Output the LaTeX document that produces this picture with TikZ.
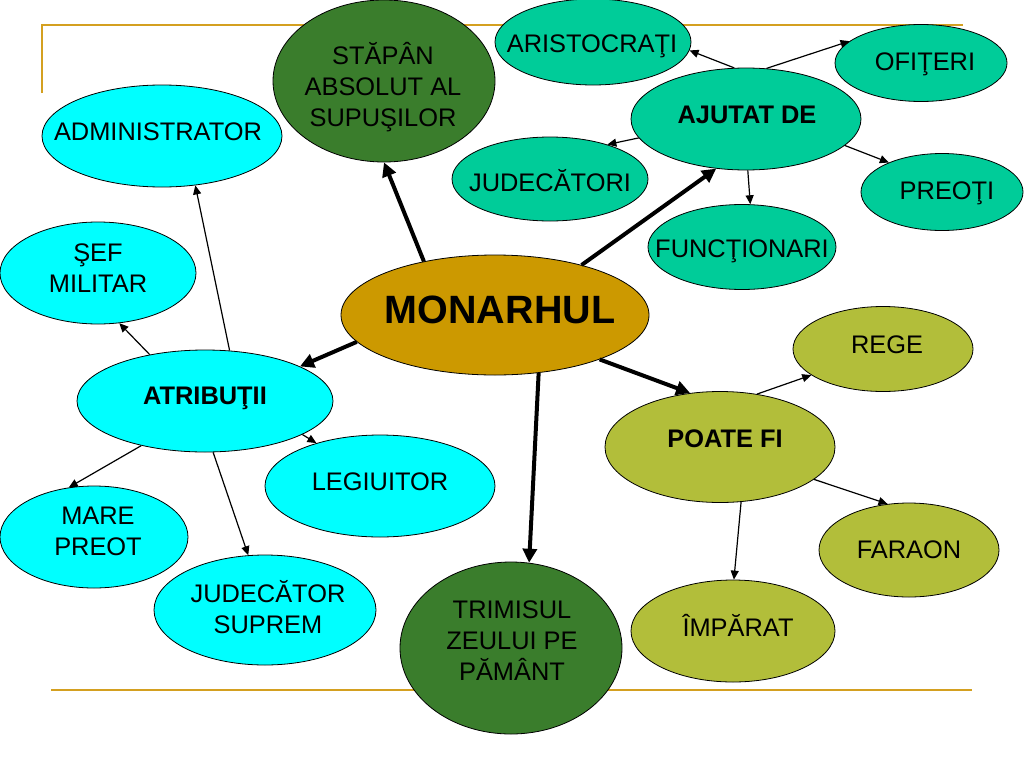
\documentclass[tikz,border=0pt]{standalone}
\usepackage{fontspec}
\setmainfont{Liberation Sans}
\usetikzlibrary{arrows.meta,shapes.geometric}
\definecolor{cyanfill}{HTML}{00FFFF}
\definecolor{tealfill}{HTML}{00CC99}
\definecolor{olivefill}{HTML}{B2BE3A}
\definecolor{darkgreen}{HTML}{3A7D2C}
\definecolor{goldfill}{HTML}{CC9900}
\definecolor{rulecol}{HTML}{D4A020}
\tikzset{
  ell/.style={ellipse, draw=black, line width=0.8pt, inner sep=0pt},
  lbl/.style={font=\fontsize{25.4}{31}\selectfont, align=center, inner sep=0pt},
  blbl/.style={lbl, font=\fontsize{25.4}{31}\selectfont\bfseries},
  big/.style={line width=4pt, -{Triangle[length=14pt,width=14pt]}},
  thinarr/.style={line width=1.2pt, -{Triangle[length=9pt,width=8pt]}},
  deco/.style={rulecol, line width=2.5pt}
}
\begin{document}
\begin{tikzpicture}[x=1pt,y=-1pt]
\useasboundingbox (0,0) rectangle (1024,768);
% decorative rules
\coordinate (r1) at (42,93);
\coordinate (r2) at (42,25);
\coordinate (r3) at (963,25);
\coordinate (r4) at (51,690);
\coordinate (r5) at (972,690);
\draw[deco] (r1) -- (r2) -- (r3);
\draw[deco] (r4) -- (r5);
% ellipses
\node[ell, fill=darkgreen, minimum width=222pt, minimum height=162pt] (stp) at (384,81) {};
\node[ell, fill=tealfill, minimum width=196pt, minimum height=86pt] (ari) at (593,42) {};
\node[ell, fill=tealfill, minimum width=172pt, minimum height=77pt] (ofi) at (921,63) {};
\node[ell, fill=tealfill, minimum width=230pt, minimum height=102pt] (ajt) at (746,119) {};
\node[ell, fill=tealfill, minimum width=196pt, minimum height=84pt] (jud) at (550,179) {};
\node[ell, fill=tealfill, minimum width=162pt, minimum height=77pt] (pre) at (942,192) {};
\node[ell, fill=tealfill, minimum width=188pt, minimum height=85pt] (fun) at (742,247) {};
\node[ell, fill=goldfill, minimum width=308pt, minimum height=120pt] (mon) at (495,315) {};
\node[ell, fill=cyanfill, minimum width=240pt, minimum height=102pt] (adm) at (162,136) {};
\node[ell, fill=cyanfill, minimum width=196pt, minimum height=102pt] (sef) at (98,273) {};
\node[ell, fill=cyanfill, minimum width=256pt, minimum height=102pt] (atr) at (205,401) {};
\node[ell, fill=cyanfill, minimum width=230pt, minimum height=102pt] (leg) at (380,486) {};
\node[ell, fill=cyanfill, minimum width=188pt, minimum height=102pt] (mp) at (94,537) {};
\node[ell, fill=cyanfill, minimum width=222pt, minimum height=110pt] (js) at (265,610) {};
\node[ell, fill=darkgreen, minimum width=222pt, minimum height=172pt] (trm) at (511,648) {};
\node[ell, fill=olivefill, minimum width=180pt, minimum height=85pt] (reg) at (883,349) {};
\node[ell, fill=olivefill, minimum width=230pt, minimum height=111pt] (pf) at (720,447) {};
\node[ell, fill=olivefill, minimum width=180pt, minimum height=94pt] (far) at (909,550) {};
\node[ell, fill=olivefill, minimum width=204pt, minimum height=102pt] (imp) at (733,631) {};
% labels
\node[lbl] (tstp) at (383,87) {STĂPÂN\\ABSOLUT AL\\SUPUŞILOR};
\node[lbl] (tari) at (592,46) {ARISTOCRAŢI};
\node[lbl] (tofi) at (925,64) {OFIŢERI};
\node[blbl] (tajt) at (747,115) {AJUTAT DE};
\node[lbl] (tjud) at (550,181) {JUDECĂTORI};
\node[lbl] (tpre) at (947,193) {PREOŢI};
\node[lbl] (tfun) at (742,251) {FUNCŢIONARI};
\node[lbl, font=\fontsize{39.5}{46}\selectfont\bfseries] (tmon) at (500,310) {MONARHUL};
\node[lbl] (tadm) at (158,132) {ADMINISTRATOR};
\node[lbl] (tsef) at (98,268) {ŞEF\\MILITAR};
\node[blbl] (tatr) at (205,398) {ATRIBUŢII};
\node[lbl] (tleg) at (380,482) {LEGIUITOR};
\node[lbl] (tmp) at (98,531) {MARE\\PREOT};
\node[lbl] (tjs) at (268,607) {JUDECĂTOR\\SUPREM};
\node[lbl] (ttrm) at (512,641) {TRIMISUL\\ZEULUI PE\\PĂMÂNT};
\node[lbl] (treg) at (887,345) {REGE};
\node[blbl] (tpf) at (725,439) {POATE FI};
\node[lbl] (tfar) at (909,550) {FARAON};
\node[lbl] (timp) at (738,625) {ÎMPĂRAT};
% thick connectors from MONARHUL
\draw[big] (mon.143) -- (stp.270);
\draw[big] (mon.191) -- (atr.20);
\draw[big] (mon.30) -- (ajt.239);
\draw[big] (mon.307) -- (trm.78);
\draw[big] (mon.337) -- (pf.119);
% ATRIBUTII
\draw[thinarr] (atr.64) -- (adm.304);
\draw[thinarr] (atr.140) -- (sef.293);
\draw[thinarr] (atr.341) -- (leg.146);
\draw[thinarr] (atr.215) -- (mp.117);
\draw[thinarr] (atr.279) -- (js.107);
% AJUTAT DE
\draw[thinarr] (ajt.103) -- (ari.355);
\draw[thinarr] (ajt.68) -- (ofi.163);
\draw[thinarr] (ajt.190) -- (jud.31);
\draw[thinarr] (ajt.345) -- (pre.151);
\draw[thinarr] (ajt.272) -- (fun.79);
% POATE FI
\draw[thinarr] (pf.55) -- (reg.200);
\draw[thinarr] (pf.341) -- (far.115);
\draw[thinarr] (pf.291) -- (imp.89);
\end{tikzpicture}
\end{document}
